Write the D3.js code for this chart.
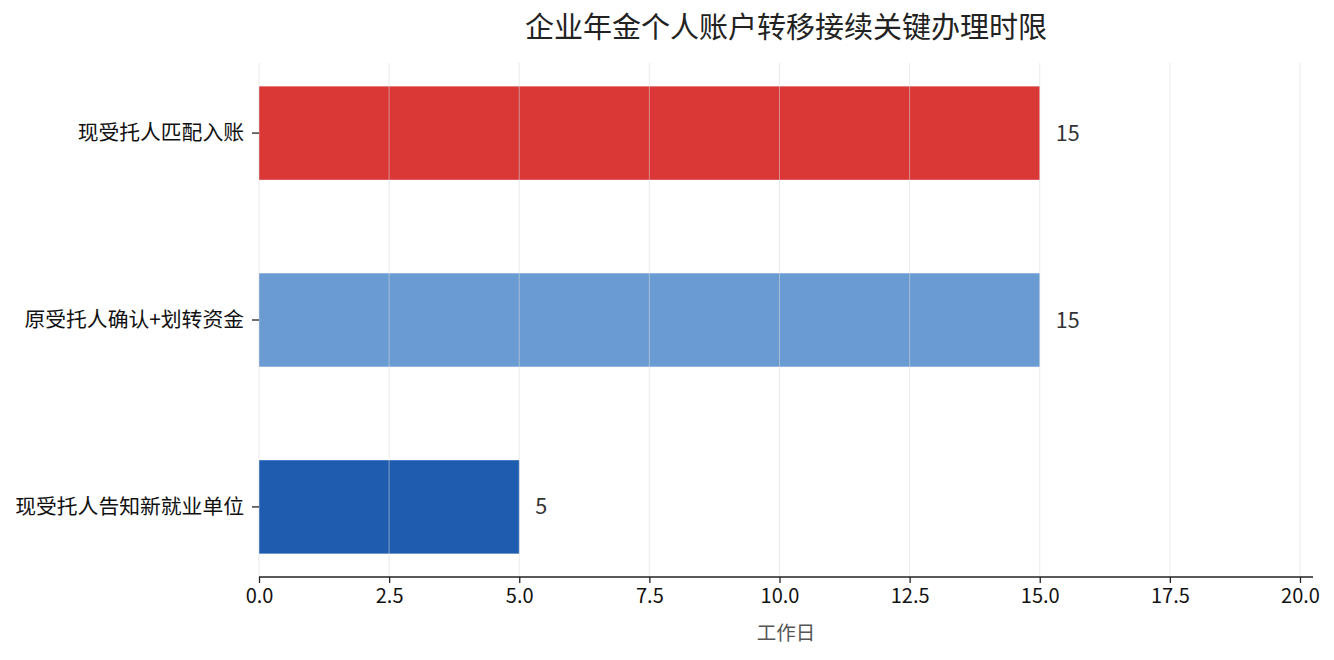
<!DOCTYPE html>
<html>
<head>
<meta charset="utf-8">
<script src="https://cdn.jsdelivr.net/npm/d3@7"></script>
<style>
  body { margin: 0; background: #fff; }
  text { font-family: "Noto Sans CJK SC", "Noto Sans", sans-serif; }
</style>
</head>
<body>
<script>
// data, bottom to top as drawn
var steps = ["现受托人告知新就业单位", "原受托人确认+划转资金", "现受托人匹配入账"];
var days = [5, 15, 15];
var colors = ["#1f5caf", "#6b9bd3", "#d93836"];
var xTicks = [0, 2.5, 5, 7.5, 10, 12.5, 15, 17.5, 20];

var w = 1334;
var h = 660;
var mLeft = 259, mRight = 1313, mTop = 63, mBottom = 577;

var svg = d3.select("body").append("svg")
    .attr("width", w)
    .attr("height", h);

var x = d3.scaleLinear().domain([0, 20.25]).range([mLeft, mRight]);

// top of chart is last item
var y = d3.scaleBand()
    .domain(steps.slice().reverse())
    .range([mTop, mBottom])
    .paddingInner(0.5)
    .paddingOuter(0.125);

svg.selectAll("rect.bar")
    .data(steps)
    .enter()
    .append("rect")
    .attr("class", "bar")
    .attr("x", x(0))
    .attr("y", function(d) { return y(d); })
    .attr("width", function(d, i) { return x(days[i]) - x(0); })
    .attr("height", y.bandwidth())
    .attr("fill", function(d, i) { return colors[i]; });

// grid drawn over the bars
svg.selectAll("line.grid")
    .data(xTicks)
    .enter()
    .append("line")
    .attr("class", "grid")
    .attr("x1", function(d) { return x(d); })
    .attr("x2", function(d) { return x(d); })
    .attr("y1", mTop)
    .attr("y2", mBottom)
    .style("stroke", "#d8d8d8")
    .style("stroke-opacity", 0.55)
    .style("stroke-width", 1);

// value labels
svg.selectAll("text.val")
    .data(steps)
    .enter()
    .append("text")
    .attr("class", "val")
    .text(function(d, i) { return days[i]; })
    .attr("x", function(d, i) { return x(days[i]) + 16; })
    .attr("y", function(d) { return y(d) + y.bandwidth() / 2; })
    .attr("dy", "0.35em")
    .attr("fill", "#333")
    .style("font-size", "21.5px");

// x axis
var xAxis = d3.axisBottom(x)
    .tickValues(xTicks)
    .tickFormat(d3.format(".1f"))
    .tickSize(6)
    .tickPadding(6);

var gx = svg.append("g")
    .attr("transform", "translate(0," + mBottom + ")")
    .call(xAxis)
    .attr("font-size", null)
    .attr("font-family", null);
gx.select(".domain")
    .attr("d", "M" + mLeft + ",0H" + mRight)
    .style("stroke", "#222")
    .style("stroke-width", 1.5);
gx.selectAll(".tick line").style("stroke", "#222").style("stroke-width", 1.3);
gx.selectAll(".tick text")
    .style("font-size", "20px")
    .attr("fill", "#111");

// y axis, spine hidden
var yAxis = d3.axisLeft(y).tickSize(7).tickPadding(8);
var gy = svg.append("g")
    .attr("transform", "translate(" + mLeft + ",0)")
    .call(yAxis)
    .attr("font-size", null)
    .attr("font-family", null);
gy.select(".domain").remove();
gy.selectAll(".tick line").style("stroke", "#222").style("stroke-width", 1.3);
gy.selectAll(".tick text")
    .style("font-size", "20.8px")
    .attr("fill", "#111");

// x label
svg.append("text")
    .text("工作日")
    .attr("x", (mLeft + mRight) / 2)
    .attr("y", 640)
    .attr("text-anchor", "middle")
    .attr("fill", "#555")
    .style("font-size", "19.5px");

// title
svg.append("text")
    .text("企业年金个人账户转移接续关键办理时限")
    .attr("x", (mLeft + mRight) / 2)
    .attr("y", 38)
    .attr("text-anchor", "middle")
    .attr("fill", "#222")
    .style("font-size", "29px");
</script>
</body>
</html>
